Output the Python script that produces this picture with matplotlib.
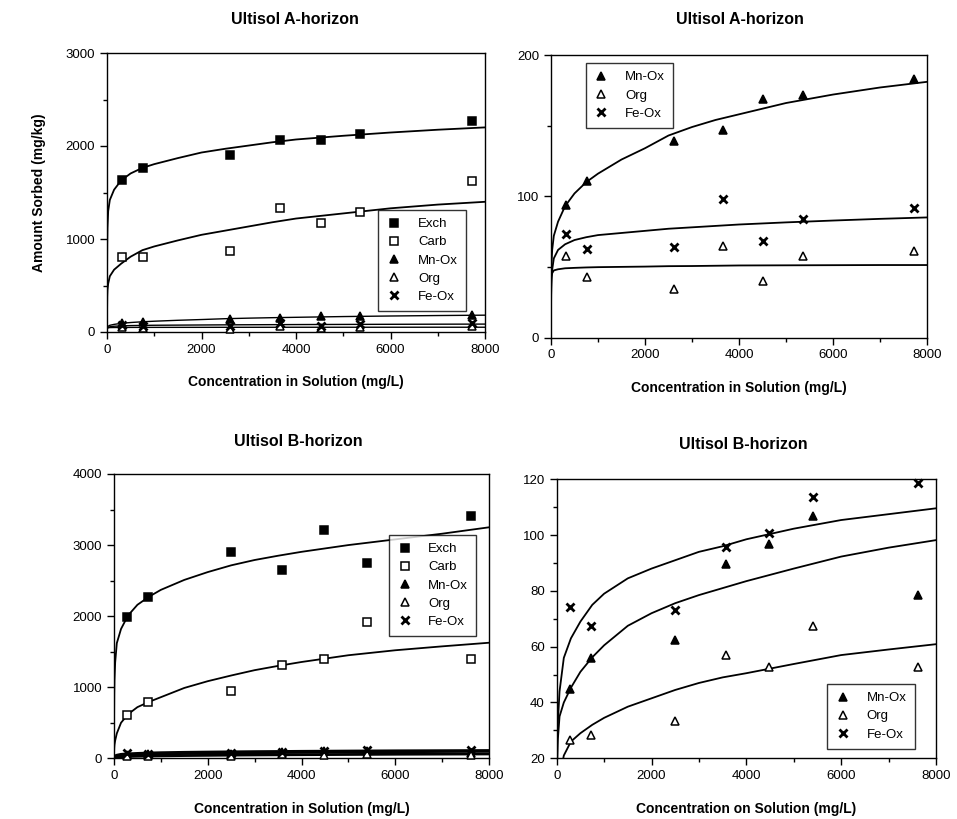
import numpy as np
import matplotlib
matplotlib.use('Agg')
import matplotlib.pyplot as plt
from matplotlib.ticker import MultipleLocator

plt.rcParams['font.family'] = ['Liberation Sans', 'DejaVu Sans']

# ---------------- data ----------------
# equilibrium concentrations (mg/L)
conc_A = [315, 765, 2610, 3660, 4520, 5360, 7730]
conc_B = [270, 720, 2500, 3580, 4480, 5400, 7620]

# Ultisol A-horizon, amount sorbed (mg/kg)
exch_A = [1630, 1765, 1905, 2060, 2060, 2125, 2270]
carb_A = [810, 810, 870, 1330, 1175, 1290, 1620]
mnox_A = [94, 111, 139, 147, 169, 172, 183]
org_A = [58, 43, 34, 65, 40, 58, 61]
feox_A = [73, 63, 64, 98, 68, 84, 92]

# Ultisol B-horizon, amount sorbed (mg/kg)
exch_B = [1990, 2265, 2900, 2645, 3215, 2750, 3410]
carb_B = [610, 790, 940, 1310, 1400, 1915, 1400]
mnox_B = [44.7, 55.8, 62.4, 89.5, 96.7, 106.8, 78.4]
org_B = [26.6, 28.2, 33.4, 57.0, 52.6, 67.5, 52.6]
feox_B = [74.2, 67.5, 73.2, 95.6, 100.6, 113.8, 118.6]

# fitted isotherm curves, read at these concentrations
curve_x = [0, 2, 5, 10, 25, 60, 150, 300, 500, 750, 1000, 1500, 2000,
           2500, 3000, 3500, 4000, 5000, 6000, 7000, 8000]
fit_exch_A = [0, 700, 950, 1120, 1300, 1420, 1530, 1630, 1705, 1765, 1805,
              1870, 1930, 1970, 2005, 2040, 2070, 2110, 2145, 2175, 2200]
fit_carb_A = [0, 250, 380, 450, 520, 600, 670, 735, 810, 880, 920,
              985, 1045, 1090, 1135, 1180, 1220, 1275, 1330, 1370, 1400]
fit_mnox_A = [0, 30, 45, 52, 62, 72, 82, 93, 102, 110, 116,
              126, 134, 143, 149, 154, 158, 166, 172, 177, 181]
fit_org_A = [0, 30, 38, 43, 45.5, 47.5, 48.3, 49, 49.3, 49.6, 49.8,
             50, 50.2, 50.5, 50.6, 50.8, 51, 51.1, 51.2, 51.3, 51.3]
fit_feox_A = [0, 25, 35, 41, 48, 56, 62, 66, 69, 71, 72.5,
              74, 75.5, 77, 78, 79, 80, 81.5, 82.8, 84, 85]

fit_exch_B = [0, 600, 900, 1100, 1350, 1620, 1820, 2010, 2160, 2275, 2370,
              2510, 2620, 2715, 2790, 2850, 2905, 3000, 3080, 3160, 3250]
fit_carb_B = [0, 100, 150, 190, 250, 350, 500, 620, 720, 795, 860,
              990, 1085, 1165, 1240, 1300, 1355, 1450, 1520, 1575, 1626]
fit_mnox_B = [0, 8, 12, 18, 27, 35, 40, 45.3, 51, 56.2, 60.5,
              67.5, 72, 75.6, 78.5, 81, 83.5, 88, 92.3, 95.5, 98.2]
fit_org_B = [0, 1, 3, 5, 8, 13, 21, 26, 29, 32, 34.5,
             38.5, 41.5, 44.5, 47, 49, 50.5, 53.8, 57, 59, 60.9]
fit_feox_B = [0, 15, 22, 27, 33, 44, 56, 63, 69, 75, 79,
              84.5, 88, 91, 94, 96, 98.5, 102.3, 105.4, 107.5, 109.6]

W, H = 957, 819
fig = plt.figure(figsize=(W / 100, H / 100), dpi=100)


def px_axes(l, r, t, b):
    return fig.add_axes([l / W, (H - b) / H, (r - l) / W, (b - t) / H])


def style(ax, ymax, ymin, ymaj, ymin_step):
    ax.set_xlim(0, 8000)
    ax.set_ylim(ymin, ymax)
    ax.xaxis.set_major_locator(MultipleLocator(2000))
    ax.xaxis.set_minor_locator(MultipleLocator(1000))
    ax.yaxis.set_major_locator(MultipleLocator(ymaj))
    ax.yaxis.set_minor_locator(MultipleLocator(ymin_step))
    ax.tick_params(which='both', direction='out', top=False, right=False,
                   labelsize=9.5, width=1)
    ax.tick_params(which='major', length=5)
    ax.tick_params(which='minor', length=3)
    for s in ax.spines.values():
        s.set_linewidth(1.0)


def pts(ax, x, y, marker, filled, label, ms=5.5):
    if marker == 'x':
        ax.plot(x, y, ls='none', marker='x', color='black', ms=ms, mew=2.0,
                label=label, clip_on=False, zorder=4)
    else:
        ax.plot(x, y, ls='none', marker=marker, ms=ms, mew=1.1,
                mfc='black' if filled else 'white', mec='black',
                label=label, clip_on=False, zorder=4)


def fit(ax, y, lw=1.3):
    ax.plot(curve_x, y, color='black', lw=lw, zorder=3)


def legend(ax, x0, y0):
    leg = ax.legend(loc='upper left', bbox_to_anchor=(x0, y0), fontsize=9.5,
                    frameon=True, fancybox=False, edgecolor='black',
                    handlelength=1.2, handletextpad=1.2, borderpad=0.6,
                    labelspacing=0.45, borderaxespad=0)
    leg.get_frame().set_linewidth(1.0)
    leg.set_zorder(5)


title_kw = dict(fontsize=11.5, fontweight='bold', ha='center', va='center')
xlab_kw = dict(fontsize=10, fontweight='bold')

# ---------- panel 1: Ultisol A-horizon (all fractions) ----------
ax1 = px_axes(107, 485, 53, 332)
for c in [fit_exch_A, fit_carb_A]:
    fit(ax1, c)
for c in [fit_mnox_A, fit_org_A, fit_feox_A]:
    fit(ax1, c, lw=1.0)
pts(ax1, conc_A, exch_A, 's', True, 'Exch')
pts(ax1, conc_A, carb_A, 's', False, 'Carb')
pts(ax1, conc_A, mnox_A, '^', True, 'Mn-Ox')
pts(ax1, conc_A, org_A, '^', False, 'Org')
pts(ax1, conc_A, feox_A, 'x', True, 'Fe-Ox', ms=6)
style(ax1, 3000, 0, 1000, 500)
legend(ax1, 0.718, 0.437)
ax1.set_xlabel('Concentration in Solution (mg/L)', labelpad=14, **xlab_kw)
ax1.set_ylabel('Amount Sorbed (mg/kg)', fontsize=10, fontweight='bold', labelpad=14)
fig.text(295 / W, 1 - 20 / H, 'Ultisol A-horizon', **title_kw)

# ---------- panel 2: Ultisol A-horizon (oxide / organic) ----------
ax2 = px_axes(551, 927, 55, 337.5)
for c in [fit_mnox_A, fit_org_A, fit_feox_A]:
    fit(ax2, c)
pts(ax2, conc_A, mnox_A, '^', True, 'Mn-Ox')
pts(ax2, conc_A, org_A, '^', False, 'Org')
pts(ax2, conc_A, feox_A, 'x', True, 'Fe-Ox', ms=6)
style(ax2, 200, 0, 100, 50)
legend(ax2, 0.092, 0.971)
ax2.set_xlabel('Concentration in Solution (mg/L)', labelpad=14, **xlab_kw)
fig.text(740 / W, 1 - 20 / H, 'Ultisol A-horizon', **title_kw)

# ---------- panel 3: Ultisol B-horizon (all fractions) ----------
ax3 = px_axes(114, 489, 474, 758.3)
for c in [fit_exch_B, fit_carb_B]:
    fit(ax3, c)
for c in [fit_mnox_B, fit_org_B, fit_feox_B]:
    fit(ax3, c, lw=2.0)
pts(ax3, conc_B, exch_B, 's', True, 'Exch')
pts(ax3, conc_B, carb_B, 's', False, 'Carb')
pts(ax3, conc_B, mnox_B, '^', True, 'Mn-Ox')
pts(ax3, conc_B, org_B, '^', False, 'Org')
pts(ax3, conc_B, feox_B, 'x', True, 'Fe-Ox', ms=6)
style(ax3, 4000, 0, 1000, 500)
legend(ax3, 0.7325, 0.785)
ax3.set_xlabel('Concentration in Solution (mg/L)', labelpad=14, **xlab_kw)
fig.text(298 / W, 1 - 441 / H, 'Ultisol B-horizon', **title_kw)

# ---------- panel 4: Ultisol B-horizon (oxide / organic) ----------
ax4 = px_axes(556.7, 936, 479.3, 758.3)
for c in [fit_mnox_B, fit_org_B, fit_feox_B]:
    fit(ax4, c)
pts(ax4, conc_B, mnox_B, '^', True, 'Mn-Ox')
pts(ax4, conc_B, org_B, '^', False, 'Org')
pts(ax4, conc_B, feox_B, 'x', True, 'Fe-Ox', ms=6)
style(ax4, 120, 20, 20, 10)
legend(ax4, 0.713, 0.266)
ax4.set_xlabel('Concentration on Solution (mg/L)', labelpad=14, **xlab_kw)
fig.text(743 / W, 1 - 445 / H, 'Ultisol B-horizon', **title_kw)

fig.savefig('out.png', dpi=100, facecolor='white')
